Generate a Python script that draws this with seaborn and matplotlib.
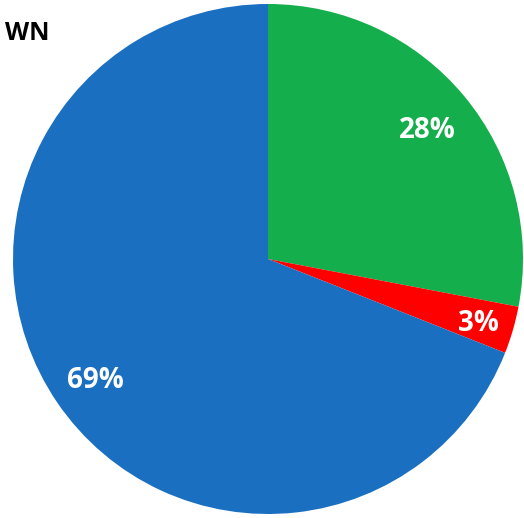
import matplotlib
matplotlib.use("Agg")
import matplotlib.pyplot as plt
import seaborn as sns
import numpy as np

categories = ["Green", "Red", "Blue"]
values = [28, 3, 69]
pct_labels = ["28%", "3%", "69%"]
colors = ["#15AE4C", "#FE0000", "#1B6FC0"]
title = "WN"

sns.set_style("white")
plt.rcParams['font.family'] = ['Open Sans', 'DejaVu Sans']

W, H = 524, 518
fig = plt.figure(figsize=(W / 100, H / 100), dpi=100)
cx, cy, r = 268, 259, 255
ax = fig.add_axes([(cx - r) / W, (H - cy - r) / H, 2 * r / W, 2 * r / H])

wedges, _ = ax.pie(values, colors=colors, startangle=90, counterclock=False,
                   radius=1.0, wedgeprops=dict(linewidth=0))
ax.set_xlim(-1, 1)
ax.set_ylim(-1, 1)
ax.set_aspect('equal')
for w in wedges:
    w.set_clip_on(False)

dists = [0.81, 0.86, 0.82]
for w, lab, d in zip(wedges, pct_labels, dists):
    ang = np.deg2rad((w.theta1 + w.theta2) / 2)
    ax.text(d * np.cos(ang), d * np.sin(ang), lab, ha='center', va='center_baseline',
            color='white', fontsize=20, fontweight='bold')

fig.text(5 / W, 1 - 30 / H, title, ha='left', va='center_baseline', fontsize=18,
         fontweight='bold', color='black')

fig.savefig("out.png", dpi=100)
